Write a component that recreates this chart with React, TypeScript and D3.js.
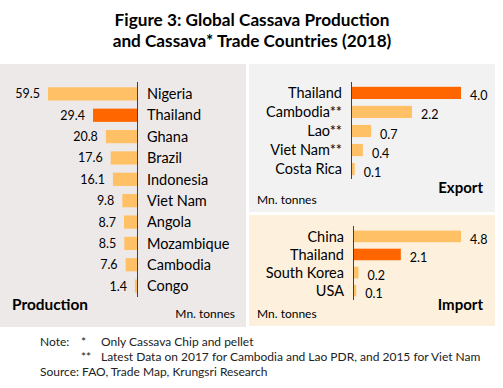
import React, { useEffect, useRef } from 'react';
import * as d3 from 'd3';

// Production (Mn. tonnes)
const prodCountries = ['Nigeria', 'Thailand', 'Ghana', 'Brazil', 'Indonesia', 'Viet Nam', 'Angola', 'Mozambique', 'Cambodia', 'Congo'];
const prodValues = [59.5, 29.4, 20.8, 17.6, 16.1, 9.8, 8.7, 8.5, 7.6, 1.4];

// Export
const expCountries = ['Thailand', 'Cambodia**', 'Lao**', 'Viet Nam**', 'Costa Rica'];
const expValues = [4.0, 2.2, 0.7, 0.4, 0.1];

// Import
const impCountries = ['China', 'Thailand', 'South Korea', 'USA'];
const impValues = [4.8, 2.1, 0.2, 0.1];

const FONT = 'Lato, "Open Sans", sans-serif';
const LIGHT = '#FFC066';
const DARK = '#FF6600';

const App = () => {
  const svgRef = useRef(null);

  useEffect(() => {
    const svg = d3.select(svgRef.current);
    svg.selectAll('*').remove();
    svg.style('font-family', FONT);

    const colorOf = (c) => (c === 'Thailand' ? DARK : LIGHT);

    // title
    const title = svg.append('text')
      .attr('text-anchor', 'middle')
      .style('font-weight', 'bold')
      .style('font-size', '17.2px')
      .attr('fill', '#000');
    title.append('tspan').attr('x', 252).attr('y', 26).text('Figure 3: Global Cassava Production');
    title.append('tspan').attr('x', 252).attr('y', 47).text('and Cassava* Trade Countries (2018)');

    // panel backgrounds
    svg.append('rect').attr('x', 0).attr('y', 64).attr('width', 246).attr('height', 263).attr('fill', '#EDE9E8');
    svg.append('rect').attr('x', 249).attr('y', 64).attr('width', 246).attr('height', 148).attr('fill', '#F2F2F2');
    svg.append('rect').attr('x', 249).attr('y', 215).attr('width', 246).attr('height', 111).attr('fill', '#FDF0DD');

    // ---- Production (bars grow to the left)
    const pAxisX = 137;
    const px = d3.scaleLinear().domain([0, 59.5]).range([0, 89]);
    const py = d3.scaleBand().domain(prodCountries).range([83, 297]).paddingInner(0.38).paddingOuter(0.2);

    const pg = svg.append('g');
    pg.selectAll('rect')
      .data(prodCountries)
      .enter().append('rect')
      .attr('x', (d, i) => pAxisX - px(prodValues[i]))
      .attr('y', d => py(d))
      .attr('width', (d, i) => px(prodValues[i]))
      .attr('height', py.bandwidth())
      .attr('fill', d => colorOf(d));

    pg.selectAll('.val')
      .data(prodCountries)
      .enter().append('text')
      .attr('class', 'val')
      .attr('x', (d, i) => pAxisX - px(prodValues[i]) - 8)
      .attr('y', d => py(d) + py.bandwidth() / 2)
      .attr('dy', '0.36em')
      .attr('text-anchor', 'end')
      .style('font-size', '12.5px')
      .text((d, i) => prodValues[i].toFixed(1));

    pg.selectAll('.lab')
      .data(prodCountries)
      .enter().append('text')
      .attr('class', 'lab')
      .attr('x', pAxisX + 10)
      .attr('y', d => py(d) + py.bandwidth() / 2)
      .attr('dy', '0.36em')
      .style('font-size', '14.5px')
      .text(d => d);

    pg.append('line')
      .attr('x1', pAxisX + 0.5).attr('x2', pAxisX + 0.5)
      .attr('y1', 82).attr('y2', 297)
      .attr('stroke', '#404040').attr('stroke-width', 1);

    svg.append('text').attr('x', 12).attr('y', 310)
      .style('font-weight', 'bold').style('font-size', '15.4px').text('Production');
    svg.append('text').attr('x', 235).attr('y', 318).attr('text-anchor', 'end')
      .style('font-size', '12px').text('Mn. tonnes');

    // ---- right-hand panels (bars grow to the right)
    const drawRight = (countries, values, axisX, maxPx, maxVal, y0, y1, name, nameY) => {
      const x = d3.scaleLinear().domain([0, maxVal]).range([0, maxPx]);
      const y = d3.scaleBand().domain(countries).range([y0, y1]).paddingInner(0.36).paddingOuter(0.2);
      const g = svg.append('g');

      g.selectAll('rect')
        .data(countries)
        .enter().append('rect')
        .attr('x', axisX)
        .attr('y', d => y(d))
        .attr('width', (d, i) => x(values[i]))
        .attr('height', y.bandwidth())
        .attr('fill', d => colorOf(d));

      g.selectAll('.val')
        .data(countries)
        .enter().append('text')
        .attr('class', 'val')
        .attr('x', (d, i) => axisX + x(values[i]) + 9)
        .attr('y', d => y(d) + y.bandwidth() / 2)
        .attr('dy', '0.6em')
        .style('font-size', '12.5px')
        .text((d, i) => values[i].toFixed(1));

      g.selectAll('.lab')
        .data(countries)
        .enter().append('text')
        .attr('class', 'lab')
        .attr('x', axisX - 10)
        .attr('y', d => y(d) + y.bandwidth() / 2)
        .attr('dy', '0.36em')
        .attr('text-anchor', 'end')
        .style('font-size', '14.5px')
        .text(d => d);

      g.append('line')
        .attr('x1', axisX - 0.5).attr('x2', axisX - 0.5)
        .attr('y1', y0 - 1).attr('y2', y1)
        .attr('stroke', '#404040').attr('stroke-width', 1);

      svg.append('text').attr('x', 483).attr('y', nameY).attr('text-anchor', 'end')
        .style('font-weight', 'bold').style('font-size', '15px').text(name);
    };

    drawRight(expCountries, expValues, 352, 109, 4.0, 83, 179, 'Export', 193);
    svg.append('text').attr('x', 257).attr('y', 204).style('font-size', '12px').text('Mn. tonnes');

    drawRight(impCountries, impValues, 354, 107, 4.8, 227, 300, 'Import', 310);
    svg.append('text').attr('x', 257).attr('y', 318).style('font-size', '12px').text('Mn. tonnes');

    // notes
    const notes = svg.append('g').style('font-size', '12px').attr('fill', '#222');
    notes.append('text').attr('x', 40).attr('y', 346).text('Note:');
    notes.append('text').attr('x', 81).attr('y', 346).text('*');
    notes.append('text').attr('x', 101).attr('y', 346).text('Only Cassava Chip and pellet');
    notes.append('text').attr('x', 81).attr('y', 361).text('**');
    notes.append('text').attr('x', 101).attr('y', 361).text('Latest Data on 2017 for Cambodia and Lao PDR, and 2015 for Viet Nam');
    notes.append('text').attr('x', 40).attr('y', 376).text('Source: FAO, Trade Map, Krungsri Research');
  }, []);

  return (
    <svg
      ref={svgRef}
      width={503}
      height={388}
      style={{ position: 'fixed', left: 0, top: 0, background: '#fff' }}
    />
  );
};

export default App;
